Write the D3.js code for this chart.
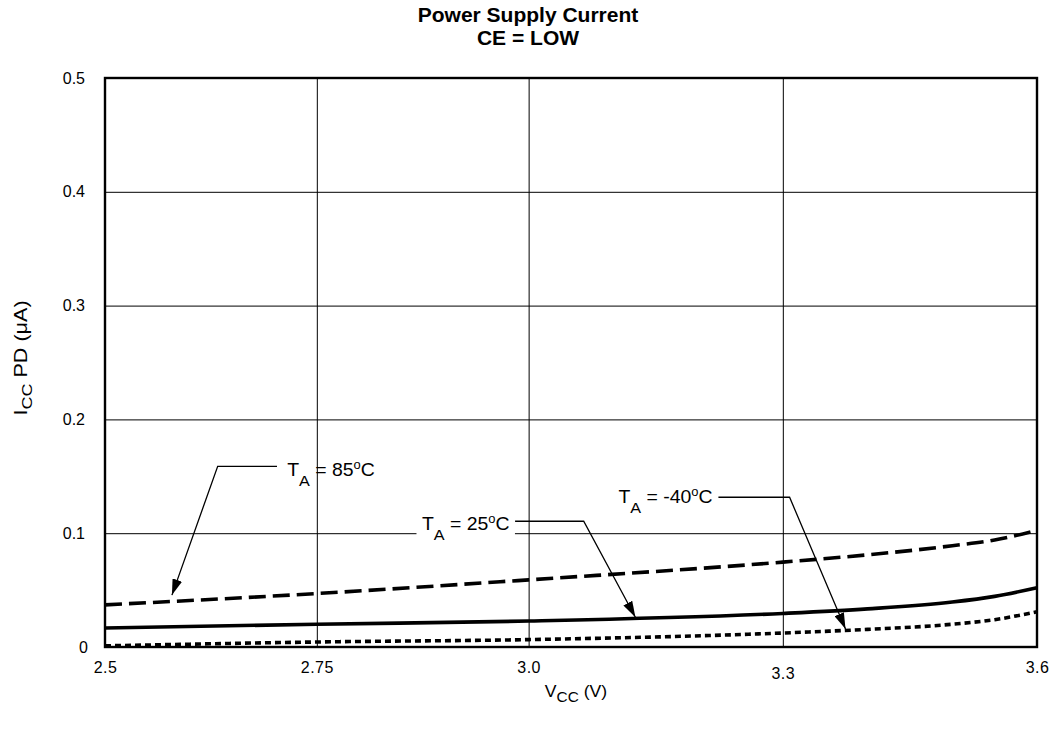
<!DOCTYPE html>
<html>
<head>
<meta charset="UTF-8"/>
<title>Power Supply Current</title>
<style>
  body { margin: 0; background: #fff; }
  svg { display: block; font-family: 'Liberation Sans', Arial, sans-serif; }
  .tick text { font-family: 'Liberation Sans', Arial, sans-serif; font-size: 16px; fill: #000; }
  .grid line { stroke: #000; stroke-width: 1; }
  .grid path { display: none; }
  .curve { fill: none; stroke: #000; stroke-width: 3.6; }
  .lead { fill: none; stroke: #000; stroke-width: 1.3; }
  .note { font-size: 18px; }
</style>
<script src="https://d3js.org/d3.v7.min.js"></script>
</head>
<body>
<svg width="1055" height="730"></svg>
<script>
// data
const vcc   = [2.5, 2.75, 3.0, 3.3, 3.4, 3.5, 3.55, 3.6];
const ta85  = [0.037, 0.047, 0.059, 0.0746, 0.081, 0.089, 0.094, 0.1026];
const ta25  = [0.0167, 0.020, 0.0228, 0.0295, 0.0335, 0.0395, 0.0445, 0.052];
const taM40 = [0.001, 0.0044, 0.0065, 0.0123, 0.0155, 0.020, 0.024, 0.031];

const xTicks = [2.5, 2.75, 3.0, 3.3, 3.6];
const xLabels = ['2.5', '2.75', '3.0', '3.3', '3.6'];
const yTicks = [0, 0.1, 0.2, 0.3, 0.4, 0.5];
const yLabels = ['0', '0.1', '0.2', '0.3', '0.4', '0.5'];

const mLeft = 105, mTop = 78, mRight = 1037, mBottom = 647;
const svg = d3.select('svg');

const x = d3.scaleLinear().domain([2.5, 3.6]).range([mLeft, mRight]);
const y = d3.scaleLinear().domain([0, 0.5]).range([mBottom, mTop]);

// title
const title = svg.append('text')
  .attr('text-anchor', 'middle')
  .style('font-weight', 'bold').style('font-size', '21px');
title.append('tspan').attr('x', 528).attr('y', 22).text('Power Supply Current');
title.append('tspan').attr('x', 528).attr('y', 45).text('CE = LOW');

// grid
svg.append('g').attr('class', 'grid')
  .attr('transform', `translate(0,${mBottom})`)
  .call(d3.axisBottom(x).tickValues([2.75, 3.0, 3.3]).tickSize(-(mBottom - mTop)).tickFormat(''));
svg.append('g').attr('class', 'grid')
  .attr('transform', `translate(${mLeft},0)`)
  .call(d3.axisLeft(y).tickValues([0.1, 0.2, 0.3, 0.4]).tickSize(-(mRight - mLeft)).tickFormat(''));

// tick labels
const xa = svg.append('g')
  .attr('transform', `translate(0,${mBottom})`)
  .call(d3.axisBottom(x).tickValues(xTicks).tickSize(0).tickPadding(15)
    .tickFormat((d, i) => xLabels[i]));
xa.select('.domain').remove();
xa.selectAll('.tick text').attr('dy', (d) => d === 3.3 ? '1.05em' : '0.71em')
  .style('letter-spacing', '0.5px');

const ya = svg.append('g')
  .attr('transform', `translate(${mLeft},0)`)
  .call(d3.axisLeft(y).tickValues(yTicks).tickSize(0).tickPadding(20)
    .tickFormat((d, i) => yLabels[i]));
ya.select('.domain').remove();
ya.selectAll('.tick text').attr('dx', (d) => d === 0 ? 3 : 0);

// curves
const line = d3.line().x((d) => x(d[0])).y((d) => y(d[1])).curve(d3.curveMonotoneX);
const series = [
  { vals: ta85, dash: '17 7' },
  { vals: ta25, dash: null },
  { vals: taM40, dash: '6 4' }
];
svg.selectAll('path.curve').data(series).enter().append('path')
  .attr('class', 'curve')
  .attr('d', (s) => line(vcc.map((v, i) => [v, s.vals[i]])))
  .attr('stroke-dasharray', (s) => s.dash);

// frame
svg.append('rect')
  .attr('x', mLeft).attr('y', mTop)
  .attr('width', mRight - mLeft).attr('height', mBottom - mTop)
  .attr('fill', 'none').attr('stroke', '#000').attr('stroke-width', 2.4);

// annotations: text start, leader start, elbow, arrow tip (data coords)
const notes = [
  { t: '85', tx: 2.715, ty: 0.150, l0: 2.703, elbow: 2.633, ly: 0.1588, tip: [2.579, 0.0456], bg: false },
  { t: '25', tx: 2.874, ty: 0.1026, l0: 2.984, elbow: 3.065, ly: 0.1105, tip: [3.126, 0.0262], bg: true },
  { t: '-40', tx: 3.106, ty: 0.1263, l0: 3.224, elbow: 3.308, ly: 0.1316, tip: [3.374, 0.0158], bg: false }
];

svg.append('defs').append('marker')
  .attr('id', 'arr').attr('viewBox', '0 0 16 10')
  .attr('refX', 16).attr('refY', 5)
  .attr('markerWidth', 16).attr('markerHeight', 10)
  .attr('markerUnits', 'userSpaceOnUse').attr('orient', 'auto')
  .append('path').attr('d', 'M0,0L16,5L0,10Z').attr('fill', '#000');

notes.forEach((n) => {
  const g = svg.append('g');
  const tg = g.append('g')
    .attr('transform', `translate(${x(n.tx)},${y(n.ty)}) scale(1.08,1)`);
  const txt = tg.append('text').attr('class', 'note');
  txt.append('tspan').text('T');
  txt.append('tspan').attr('dy', 10).style('font-size', '15px').text('A');
  txt.append('tspan').attr('dy', -10).text(' = ' + n.t);
  txt.append('tspan').attr('dy', -7).style('font-size', '12px').text('o');
  txt.append('tspan').attr('dy', 7).text('C');
  if (n.bg) {
    const b = txt.node().getBBox();
    tg.insert('rect', 'text')
      .attr('x', b.x - 5).attr('y', b.y).attr('width', b.width + 10).attr('height', b.height)
      .attr('fill', '#fff');
  }
  g.append('path').attr('class', 'lead')
    .attr('d', d3.line()([[x(n.l0), y(n.ly)], [x(n.elbow), y(n.ly)], [x(n.tip[0]), y(n.tip[1])]]))
    .attr('marker-end', 'url(#arr)');
});

// axis titles
const yt = svg.append('text')
  .attr('transform', 'translate(27,358) rotate(-90) scale(1.2,1)')
  .attr('text-anchor', 'middle').style('font-size', '18px');
yt.append('tspan').text('I');
yt.append('tspan').attr('dy', 5).style('font-size', '15px').text('CC');
yt.append('tspan').attr('dy', -5).text(' PD (\u03bcA)');

const xt = svg.append('text')
  .attr('transform', 'translate(576,697) scale(1.1,1)')
  .attr('text-anchor', 'middle').style('font-size', '16px');
xt.append('tspan').text('V');
xt.append('tspan').attr('dy', 5).style('font-size', '14px').text('CC');
xt.append('tspan').attr('dy', -5).text(' (V)');
</script>
</body>
</html>
